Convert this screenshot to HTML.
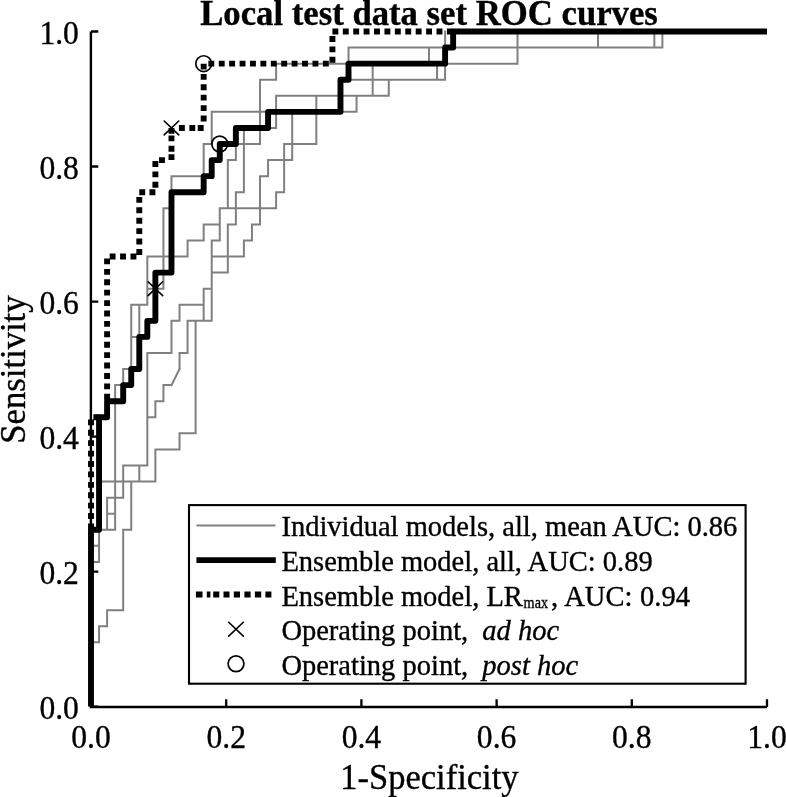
<!DOCTYPE html>
<html><head><meta charset="utf-8"><style>
html,body{margin:0;padding:0;background:#fff;}
body{width:786px;height:797px;overflow:hidden;}
svg{display:block;will-change:transform;}
text{font-family:"Liberation Serif",serif;fill:#000;stroke:#000;stroke-width:0.35px;}
</style></head><body>
<svg width="786" height="797" viewBox="0 0 786 797">
<rect width="786" height="797" fill="#fff"/><g>
<path d="M91 642.3H99.05M99.05 642.3V626.23M99.05 626.23H107.1M107.1 626.23V610.16M107.1 610.16H123.19M123.19 610.16V529.79M123.19 529.79H131.24M131.24 529.79V481.57M91 561.94H99.05M91 545.86H99.05M99.05 561.94V529.79M99.05 529.79H115.14M107.1 529.79V497.64M115.14 529.79V385.12M107.1 513.71H115.14M107.1 497.64H123.19M123.19 497.64V465.49M99.05 481.57H155.38M123.19 465.49H147.33M139.29 481.57V465.49M147.33 465.49V352.98M155.38 481.57V449.42M155.38 449.42H179.52M179.52 449.42V433.35M179.52 433.35H195.62M195.62 433.35V320.83M147.33 417.27H155.38M155.38 417.27V401.2M155.38 401.2H163.43M163.43 401.2V385.12M163.43 385.12H171.48M171.48 385.12L179.52 369.05M179.52 369.05V352.98M179.52 352.98H187.57M187.57 352.98V320.83M187.57 320.83H211.71M147.33 352.98H171.48M171.48 352.98V320.83M171.48 320.83H179.52M179.52 320.83V304.75M179.52 304.75H203.67M203.67 320.83V288.68M203.67 288.68H211.71M211.71 320.83V240.46M115.14 385.12H123.19M123.19 385.12V369.05M123.19 369.05H131.24M131.24 369.05V304.75M131.24 336.9H139.29M139.29 336.9V304.75M131.24 304.75H147.33M147.33 304.75V256.53M147.33 288.68H163.43M163.43 288.68V208.31M163.43 208.31H171.48M171.48 192.24V176.16M171.48 176.16H203.67M203.67 176.16V144.02M147.33 256.53H187.57M187.57 256.53V240.46M187.57 240.46H203.67M203.67 240.46V224.39M203.67 224.39H219.76M211.71 240.46H219.76M219.76 240.46V208.31M219.76 208.31H276.1M276.1 208.31V192.24M276.1 192.24H284.14M284.14 192.24V144.02M211.71 272.61H227.81M227.81 272.61V224.39M227.81 224.39H235.86M235.86 224.39V192.24M235.86 192.24H243.9M243.9 192.24V127.94M211.71 256.53H243.9M243.9 256.53V240.46M243.9 240.46H251.95M251.95 240.46V224.39M251.95 224.39H260M260 224.39V176.16M260 176.16H268.05M268.05 176.16V160.09M268.05 160.09H292.19M292.19 160.09V111.87M227.81 208.31V160.09M227.81 160.09H235.86M235.86 160.09V144.02M203.67 144.02H211.71M219.76 144.02H260M260 144.02V79.72M260 79.72H276.1M276.1 79.72V63.65M276.1 63.65H517.52M517.52 63.65V31.5M211.71 144.02V111.87M211.71 111.87H356.57M243.9 127.94H276.1M276.1 127.94V95.8M276.1 95.8H388.76M388.76 95.8V79.72M340.48 79.72H445.1M437.05 79.72V63.65M445.1 79.72V63.65M372.67 95.8V63.65M356.57 111.87V95.8M284.14 144.02H316.33M316.33 144.02V95.8M348.52 63.65V47.57M348.52 47.57H662.38M429 63.65V47.57M445.1 47.57V31.5M598 47.57V31.5M654.33 47.57V31.5M662.38 47.57V31.5" stroke="#808080" stroke-width="2" fill="none" stroke-linecap="square"/>
<path d="M91 529.43L91 523.53M91 519.02L91 513.12M91 508.6L91 502.7M91 498.19L91 492.29M91 487.78L91 481.88M91 477.36L91 471.46M91 466.95L91 461.05M91 456.54L91 450.64M91 446.12L91 440.23M91 435.71L91 429.81M91 425.3L91 419.4M93.39 417.27L99.29 417.27M107.1 399.74L107.1 393.84M107.1 389.33L107.1 383.43M107.1 378.92L107.1 373.02M107.1 368.5L107.1 362.6M107.1 358.09L107.1 352.19M107.1 347.68L107.1 341.78M107.1 337.26L107.1 331.36M107.1 326.85L107.1 320.95M107.1 316.44L107.1 310.54M107.1 306.03L107.1 300.13M107.1 295.61L107.1 289.71M107.1 285.2L107.1 279.3M107.1 274.79L107.1 268.89M107.1 264.37L107.1 258.47M109.67 256.53L115.57 256.53M120.08 256.53L125.98 256.53M130.49 256.53L136.39 256.53M139.29 254.91L139.29 249.01M139.29 244.5L139.29 238.6M139.29 234.09L139.29 228.19M139.29 223.67L139.29 217.77M139.29 213.26L139.29 207.36M139.29 202.85L139.29 196.95M139.29 192.24L145.19 192.24M149.48 192.24L155.38 192.24M155.38 187.7L155.38 181.8M155.38 177.29L155.38 171.39M155.38 166.88L155.38 160.98M159.01 160.09L164.91 160.09M171.48 160.09L171.48 154.19M171.48 151.73L171.48 145.83M171.48 141.32L171.48 135.42M171.48 133.84L171.48 127.94M178.92 127.94L184.82 127.94M189.34 127.94L195.24 127.94M197.77 127.94L203.67 127.94M203.67 121.45L203.67 115.55M203.67 111.03L203.67 105.13M203.67 100.62L203.67 94.72M203.67 90.21L203.67 84.31M203.67 79.79L203.67 73.89M203.67 69.55L203.67 63.65M208.35 63.65L214.25 63.65M218.76 63.65L224.66 63.65M229.17 63.65L235.07 63.65M239.59 63.65L245.49 63.65M250 63.65L255.9 63.65M260.41 63.65L266.31 63.65M270.82 63.65L276.72 63.65M281.24 63.65L287.14 63.65M291.65 63.65L297.55 63.65M302.06 63.65L307.96 63.65M312.48 63.65L318.38 63.65M322.89 63.65L328.79 63.65M332.43 62.77L332.43 56.87M332.43 52.36L332.43 46.46M332.43 41.95L332.43 36.05M332.43 31.5L338.33 31.5M342.81 31.5L348.71 31.5M353.22 31.5L359.12 31.5M363.63 31.5L369.53 31.5M374.05 31.5L379.95 31.5M384.46 31.5L390.36 31.5M394.87 31.5L400.77 31.5M405.29 31.5L411.18 31.5M415.7 31.5L421.6 31.5M426.11 31.5L432.01 31.5M436.52 31.5L442.42 31.5M446.94 31.5L452.84 31.5" stroke="#000" stroke-width="5.9" fill="none"/>
<path d="M91 706.6 L91 529.79 L99.05 529.79 L99.05 417.27 L107.1 417.27 L107.1 401.2 L123.19 401.2 L123.19 385.12 L131.24 385.12 L131.24 369.05 L139.29 369.05 L139.29 336.9 L147.33 336.9 L147.33 320.83 L155.38 320.83 L155.38 272.61 L171.48 272.61 L171.48 192.24 L203.67 192.24 L203.67 176.16 L211.71 176.16 L211.71 160.09 L219.76 160.09 L219.76 144.02 L235.86 144.02 L235.86 127.94 L268.05 127.94 L268.05 111.87 L340.48 111.87 L340.48 79.72 L348.52 79.72 L348.52 63.65 L445.1 63.65 L445.1 47.57 L453.14 47.57 L453.14 31.5 L767 31.5" stroke="#000" stroke-width="5.9" fill="none" stroke-linejoin="round"/>
<path d="M148.08 281.75L162.68 295.62M148.08 295.62L162.68 281.75" stroke="#000" stroke-width="1.6" stroke-linecap="round" fill="none"/><path d="M164.18 121.01L178.78 134.88M164.18 134.88L178.78 121.01" stroke="#000" stroke-width="1.6" stroke-linecap="round" fill="none"/><circle cx="219.76" cy="144.02" r="7.9" stroke="#000" stroke-width="1.7" fill="none"/><circle cx="203.67" cy="63.65" r="7.9" stroke="#000" stroke-width="1.7" fill="none"/>
<path d="M90.9 31.5V707H767" stroke="#000" stroke-width="2.4" fill="none"/>
<path d="M91 706.9V699.3M226.2 706.9V699.3M361.4 706.9V699.3M496.6 706.9V699.3M631.8 706.9V699.3M767 706.9V699.3M91 706.6H98.3M91 571.58H98.3M91 436.56H98.3M91 301.54H98.3M91 166.52H98.3M91 31.5H98.3" stroke="#000" stroke-width="2.3" fill="none"/>
<g font-size="31.6"><text transform="translate(91 747.7) scale(1 1.07)" text-anchor="middle">0.0</text><text transform="translate(226.2 747.7) scale(1 1.07)" text-anchor="middle">0.2</text><text transform="translate(361.4 747.7) scale(1 1.07)" text-anchor="middle">0.4</text><text transform="translate(496.6 747.7) scale(1 1.07)" text-anchor="middle">0.6</text><text transform="translate(631.8 747.7) scale(1 1.07)" text-anchor="middle">0.8</text><text transform="translate(767 747.7) scale(1 1.07)" text-anchor="middle">1.0</text><text transform="translate(78.9 718.8) scale(1 1.07)" text-anchor="end">0.0</text><text transform="translate(78.9 583.78) scale(1 1.07)" text-anchor="end">0.2</text><text transform="translate(78.9 448.76) scale(1 1.07)" text-anchor="end">0.4</text><text transform="translate(78.9 313.74) scale(1 1.07)" text-anchor="end">0.6</text><text transform="translate(78.9 178.72) scale(1 1.07)" text-anchor="end">0.8</text><text transform="translate(78.9 43.7) scale(1 1.07)" text-anchor="end">1.0</text></g>
<text transform="translate(429 24.5) scale(1 1.03)" text-anchor="middle" font-size="34.7" font-weight="bold">Local test data set ROC curves</text>
<text transform="translate(429.4 788.9) scale(1 1.05)" text-anchor="middle" font-size="34.5">1-Specificity</text>
<text transform="translate(25.2 369.6) rotate(-90) scale(1 1.05)" text-anchor="middle" font-size="34.7">Sensitivity</text>
<rect x="189" y="505.1" width="556.6" height="178.6" fill="#fff" stroke="#000" stroke-width="2.1"/>
<path d="M196.4 525.6H275.5" stroke="#808080" stroke-width="2"/>
<path d="M196.4 560.1H275.8" stroke="#000" stroke-width="5.9"/>
<path d="M195.9 594.5H202.5M206.8 594.5H210.4M213.2 594.5H219.3M223.5 594.5H229.5M233.8 594.5H240M244.4 594.5H250.6M254.9 594.5H261.2M265.4 594.5H271.4" stroke="#000" stroke-width="5.9"/>
<path d="M228.7 622.27L243.3 636.13M228.7 636.13L243.3 622.27" stroke="#000" stroke-width="1.6" stroke-linecap="round" fill="none"/><circle cx="236" cy="663.7" r="7.9" stroke="#000" stroke-width="1.7" fill="none"/>
<g font-size="28.5">
<text x="281.4" y="536.3">Individual models, all, mean AUC: 0.86</text>
<text x="281.4" y="570.9">Ensemble model, all, AUC: 0.89</text>
<text x="281.4" y="605.5">Ensemble model, LR</text><text transform="translate(523.6 607.6) scale(0.86 1)" font-size="16.5">max</text><text x="551" y="605.5" word-spacing="0.6">, AUC: 0.94</text>
<text x="281.4" y="640.1">Operating point, <tspan dx="7" font-style="italic">ad hoc</tspan></text>
<text x="281.4" y="674.7">Operating point, <tspan dx="7" font-style="italic">post hoc</tspan></text>
</g>
</g></svg>
</body></html>
